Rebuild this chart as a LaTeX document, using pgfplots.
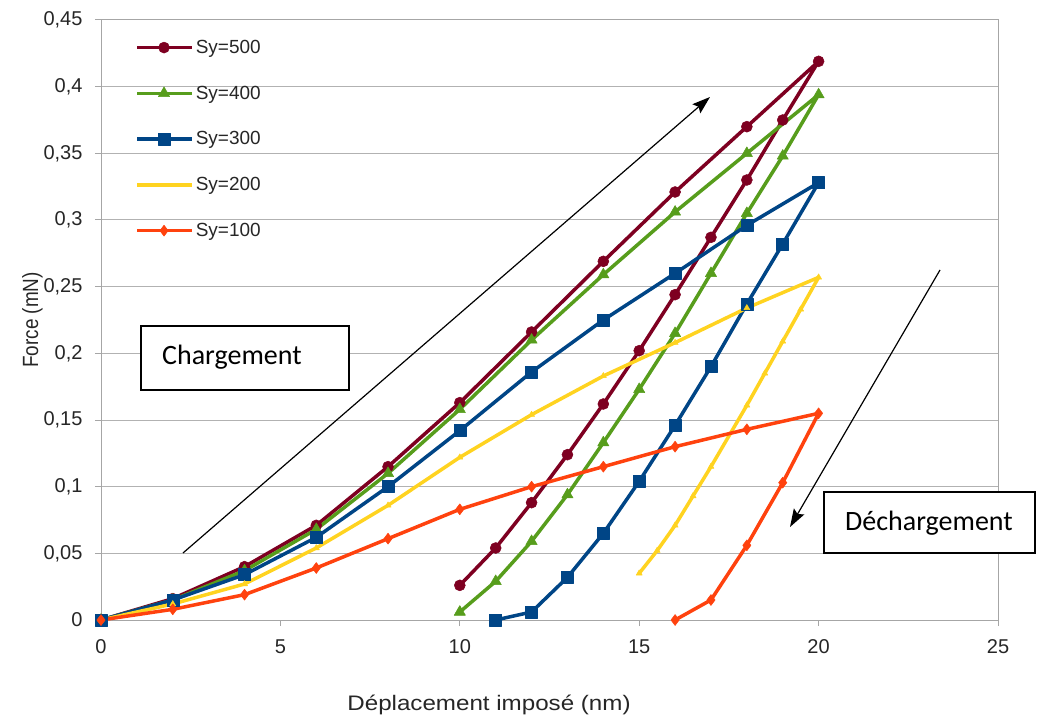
\documentclass[border=0pt]{standalone}
\usepackage{fontspec}
\setmainfont{Liberation Sans}
\newfontfamily\calibri{Carlito}
\usepackage{graphicx}
\usepackage{pgfplots}
\pgfplotsset{compat=1.18}
\usetikzlibrary{arrows.meta}
\definecolor{cA}{HTML}{7E0021}
\definecolor{cB}{HTML}{579D1C}
\definecolor{cC}{HTML}{004586}
\definecolor{cD}{HTML}{FFD320}
\definecolor{cE}{HTML}{FF420E}
\begin{document}
\begin{tikzpicture}
\begin{axis}[
  at={(101pt,95pt)}, anchor=south west,
  scale only axis, width=897pt, height=600pt,
  xmin=0, xmax=25, ymin=0, ymax=0.45,
  xtick={0,5,10,15,20,25},
  ytick={0,0.05,0.1,0.15,0.2,0.25,0.3,0.35,0.4,0.45},
  yticklabels={0,{0,05},{0,1},{0,15},{0,2},{0,25},{0,3},{0,35},{0,4},{0,45}},
  ymajorgrids,
  major grid style={color=black!30, line width=1pt},
  axis line style={black!35, line width=1pt},
  tick style={black!35, line width=1pt},
  tick align=outside, major tick length=6pt,
  xtick pos=left, ytick pos=left,
  tick label style={font=\fontsize{20}{23}\selectfont, text=black!85},
  yticklabel style={xshift=-9pt},
  xticklabel style={yshift=-10pt},
  /pgf/number format/assume math mode=true,
  clip=false,
  legend style={draw=none, fill=none, at={(0.038,0.97)}, anchor=north west,
    font=\fontsize{19}{22}\selectfont, row sep=27pt, inner sep=0pt, text=black!85},
  legend cell align=left,
  legend image code/.code={\draw[mark repeat=2,mark phase=2] plot coordinates {(0pt,0pt)(27pt,0pt)(55pt,0pt)};},
  every axis plot/.append style={line width=3.5pt, line join=round},
]
\addplot[cA, mark=*, mark size=5.5pt, mark options={solid, fill=cA, line width=0.5pt}] coordinates {
(0,0)(2,0.016)(4,0.040)(6,0.071)(8,0.115)(10,0.163)(12,0.216)(14,0.269)(16,0.321)(18,0.370)(20,0.419)
(19,0.375)(18,0.330)(17,0.287)(16,0.244)(15,0.202)(14,0.162)(13,0.124)(12,0.088)(11,0.054)(10,0.026)};
\addlegendentry{Sy=500}
\addplot[cB, mark=triangle*, mark size=6.5pt, mark options={solid, fill=cB, line width=0.5pt}] coordinates {
(0,0)(2,0.015)(4,0.037)(6,0.068)(8,0.110)(10,0.158)(12,0.210)(14,0.259)(16,0.306)(18,0.350)(20,0.394)
(19,0.348)(18,0.305)(17,0.260)(16,0.215)(15,0.173)(14,0.133)(13,0.094)(12,0.059)(11,0.029)(10,0.006)};
\addlegendentry{Sy=400}
\addplot[cC, mark=square*, mark size=6pt, mark options={solid, fill=cC, line width=0.5pt}] coordinates {
(0,0)(2,0.015)(4,0.034)(6,0.062)(8,0.100)(10,0.142)(12,0.186)(14,0.225)(16,0.260)(18,0.296)(20,0.328)
(19,0.282)(18,0.237)(17,0.190)(16,0.146)(15,0.104)(14,0.065)(13,0.032)(12,0.006)(11,0)};
\addlegendentry{Sy=300}
\addlegendimage{cD, line width=3.5pt}
\addlegendentry{Sy=200}
\addplot[cD, forget plot, mark=triangle*, mark size=3.5pt, mark options={solid, fill=cD, line width=0.5pt}] coordinates {
(0,0)(2,0.012)(4,0.027)(6,0.054)(8,0.086)(10,0.122)(12,0.154)(14,0.183)(16,0.208)(18,0.234)(20,0.257)
(19.5,0.233)(19,0.209)(18.5,0.185)(18,0.161)(17,0.115)(16.5,0.093)(16,0.071)(15.5,0.052)(15,0.035)};
\addplot[cE, mark=diamond*, mark size=5.5pt, mark options={solid, fill=cE, line width=0.5pt}] coordinates {
(0,0)(2,0.008)(4,0.019)(6,0.039)(8,0.061)(10,0.083)(12,0.100)(14,0.115)(16,0.130)(18,0.143)(20,0.155)
(19,0.103)(18,0.056)(17,0.015)(16,0)};
\addlegendentry{Sy=100}
\end{axis}
% annotations
\draw[line width=1.2pt, -{Stealth[length=18pt,width=12pt,inset=3pt]}] (183pt,162pt) -- (710pt,618pt);
\draw[line width=1.2pt, -{Stealth[length=18pt,width=12pt,inset=3pt]}] (940pt,445pt) -- (790pt,188pt);
\draw[line width=1.2pt, fill=white] (141pt,325pt) rectangle (349pt,389pt);
\node[anchor=west, inner sep=0pt, font=\calibri\fontsize{28}{32}\selectfont] at (162pt,358pt) {Chargement};
\draw[line width=1.2pt, fill=white] (824pt,162pt) rectangle (1035pt,223pt);
\node[anchor=west, inner sep=0pt, font=\calibri\fontsize{28}{32}\selectfont] at (845pt,192pt) {Déchargement};
% axis labels
\node[anchor=base, inner sep=0pt, font=\fontsize{21}{24}\selectfont, text=black!85] at (489pt,5pt) {\scalebox{1.15}[1]{Déplacement imposé (nm)}};
\node[anchor=base, rotate=90, inner sep=0pt, font=\fontsize{22}{26}\selectfont, text=black!85] at (38pt,395pt) {\scalebox{0.86}[1]{Force (mN)}};
\pgfresetboundingbox
\path (0pt,0pt) rectangle (1040pt,715pt);
\end{tikzpicture}
\end{document}
